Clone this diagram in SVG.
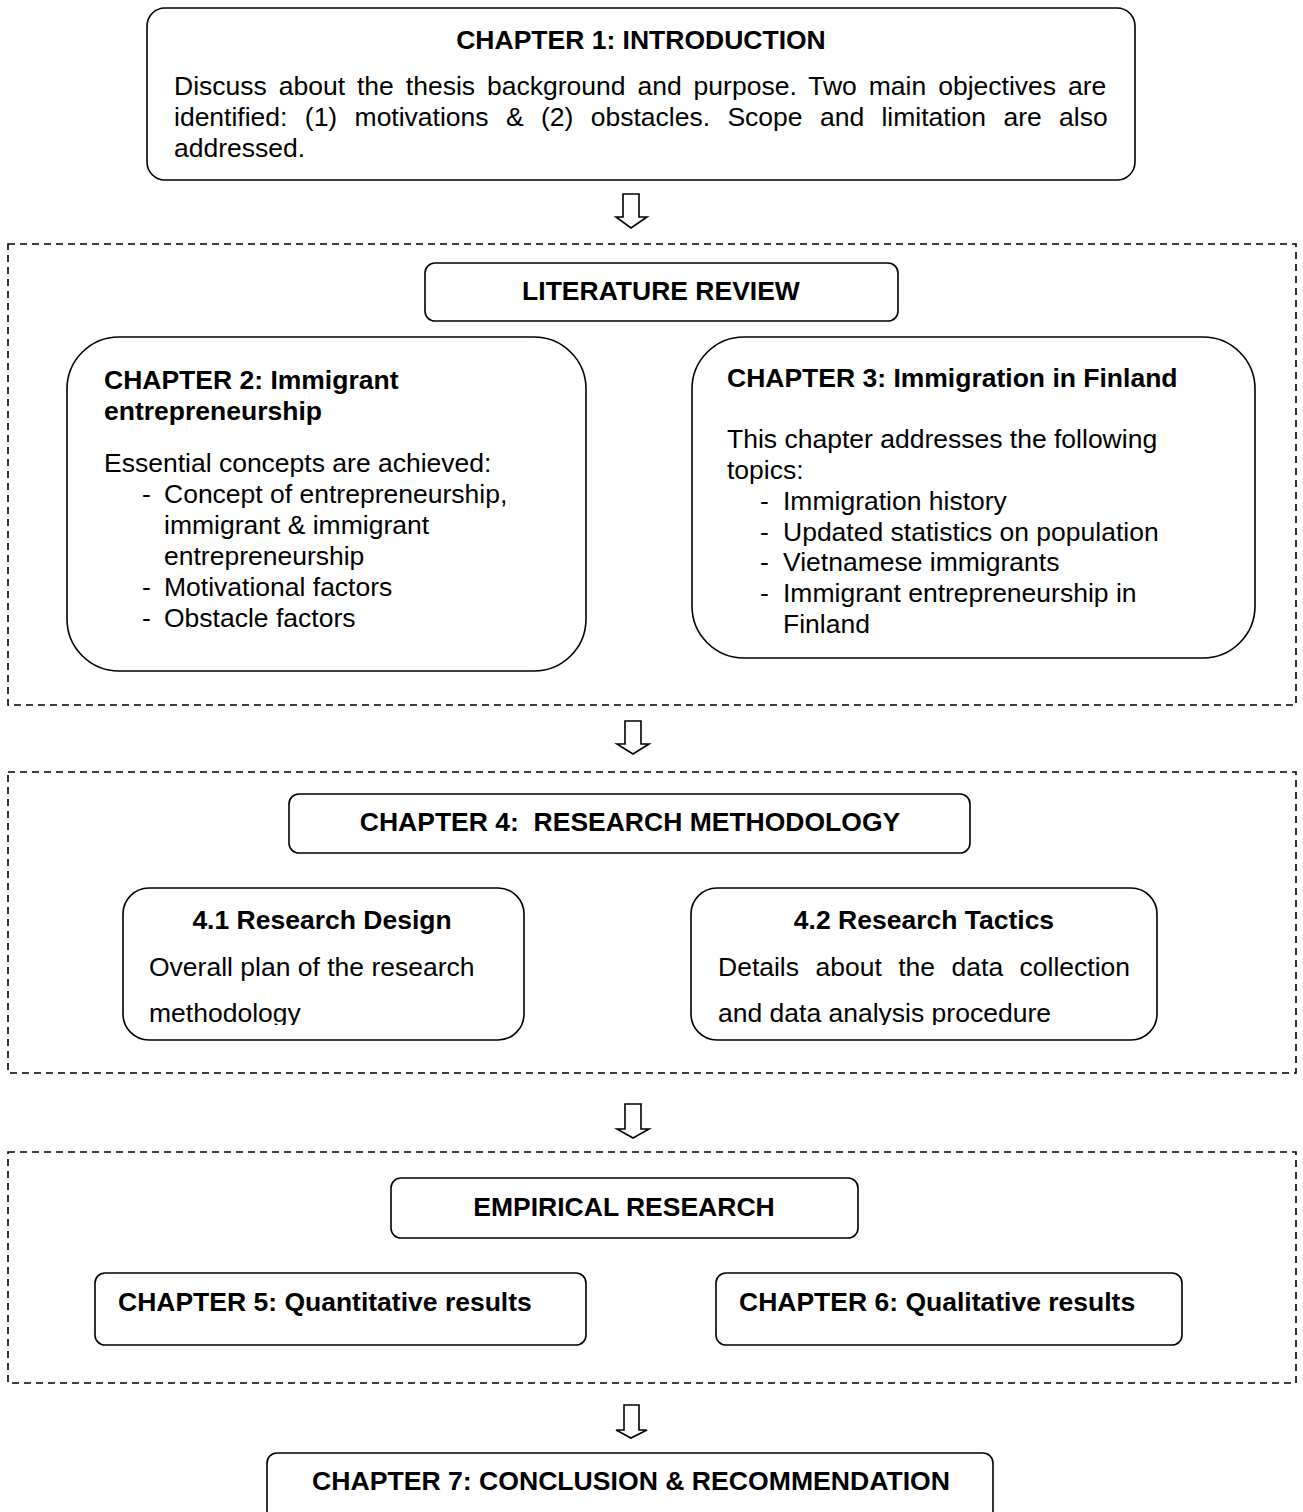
<svg xmlns="http://www.w3.org/2000/svg" width="1303" height="1512" viewBox="0 0 1303 1512">
<style>
.box{fill:#fff;stroke:#000;stroke-width:1.6}
.dash{fill:none;stroke:#000;stroke-width:1.6;stroke-dasharray:7 5}
.arr{fill:#fff;stroke:#000;stroke-width:1.6;stroke-linejoin:miter}
text{font-family:"Liberation Sans",Arial,sans-serif;font-size:26.5px;fill:#000}
.b{font-weight:bold}
.c{text-anchor:middle}
</style>
<defs>
<clipPath id="clipA"><rect x="120" y="880" width="410" height="145"/></clipPath>
<clipPath id="clipB"><rect x="690" y="880" width="470" height="145"/></clipPath>
</defs>
<rect width="1303" height="1512" fill="#fff"/>

<g id="groups">
<rect class="dash" x="8" y="244" width="1288" height="461"/>
<rect class="dash" x="8" y="772" width="1288" height="301"/>
<rect class="dash" x="8" y="1152" width="1288" height="231"/>
</g>

<g id="connectors">
<path class="arr" d="M623,194 H639 V217 H647 L631,228 L616,217 H623 Z"/>
<path class="arr" d="M625,721 H641 V744 H649 L633,754 L617,744 H625 Z"/>
<path class="arr" d="M625,1104 H641 V1129 H649 L633,1138 L617,1129 H625 Z"/>
<path class="arr" d="M624,1405 H639 V1430 H647 L631,1438 L616,1430 H624 Z"/>
</g>

<g id="ch1">
<rect class="box" x="147" y="8" width="988" height="172" rx="18"/>
<text class="b c" x="641" y="49">CHAPTER 1: INTRODUCTION</text>
<text x="174" y="95" style="word-spacing:4.6px">Discuss about the thesis background and purpose. Two main objectives are</text>
<text x="174" y="126" style="word-spacing:10px">identified: (1) motivations &amp; (2) obstacles. Scope and limitation are also</text>
<text x="174" y="157">addressed.</text>
</g>

<g id="lit">
<rect class="box" x="425" y="263" width="473" height="58" rx="10"/>
<text class="b c" x="661" y="300">LITERATURE REVIEW</text>
</g>

<g id="ch2">
<rect class="box" x="67" y="337" width="519" height="334" rx="52"/>
<text class="b" x="104" y="389">CHAPTER 2: Immigrant</text>
<text class="b" x="104" y="420">entrepreneurship</text>
<text x="104" y="472">Essential concepts are achieved:</text>
<text x="142" y="503">-</text><text x="164" y="503">Concept of entrepreneurship,</text>
<text x="164" y="534">immigrant &amp; immigrant</text>
<text x="164" y="565">entrepreneurship</text>
<text x="142" y="596">-</text><text x="164" y="596">Motivational factors</text>
<text x="142" y="627">-</text><text x="164" y="627">Obstacle factors</text>
</g>

<g id="ch3">
<rect class="box" x="692" y="337" width="563" height="321" rx="52"/>
<text class="b" x="727" y="387">CHAPTER 3: Immigration in Finland</text>
<text x="727" y="448">This chapter addresses the following</text>
<text x="727" y="479">topics:</text>
<text x="760" y="510">-</text><text x="783" y="510">Immigration history</text>
<text x="760" y="541">-</text><text x="783" y="541">Updated statistics on population</text>
<text x="760" y="571">-</text><text x="783" y="571">Vietnamese immigrants</text>
<text x="760" y="602">-</text><text x="783" y="602">Immigrant entrepreneurship in</text>
<text x="783" y="633">Finland</text>
</g>

<g id="ch4">
<rect class="box" x="289" y="794" width="681" height="59" rx="10"/>
<text class="b c" x="630" y="831" style="white-space:pre">CHAPTER 4:  RESEARCH METHODOLOGY</text>
</g>

<g id="rd41">
<rect class="box" x="123" y="888" width="401" height="152" rx="26"/>
<text class="b c" x="322" y="929">4.1 Research Design</text>
<g clip-path="url(#clipA)">
<text x="149" y="976">Overall plan of the research</text>
<text x="149" y="1022">methodology</text>
</g>
</g>

<g id="rt42">
<rect class="box" x="691" y="888" width="466" height="152" rx="26"/>
<text class="b c" x="924" y="929">4.2 Research Tactics</text>
<g clip-path="url(#clipB)">
<text x="718" y="976" style="word-spacing:9.1px">Details about the data collection</text>
<text x="718" y="1022">and data analysis procedure</text>
</g>
</g>

<g id="emp">
<rect class="box" x="391" y="1178" width="467" height="60" rx="10"/>
<text class="b c" x="624" y="1216">EMPIRICAL RESEARCH</text>
</g>

<g id="ch5">
<rect class="box" x="95" y="1273" width="491" height="72" rx="10"/>
<text class="b" x="118" y="1311">CHAPTER 5: Quantitative results</text>
</g>

<g id="ch6">
<rect class="box" x="716" y="1273" width="466" height="72" rx="10"/>
<text class="b" x="739" y="1311">CHAPTER 6: Qualitative results</text>
</g>

<g id="ch7">
<rect class="box" x="267" y="1453" width="726" height="80" rx="10"/>
<text class="b" x="312" y="1490" textLength="638" lengthAdjust="spacingAndGlyphs">CHAPTER 7: CONCLUSION &amp; RECOMMENDATION</text>
</g>
</svg>
